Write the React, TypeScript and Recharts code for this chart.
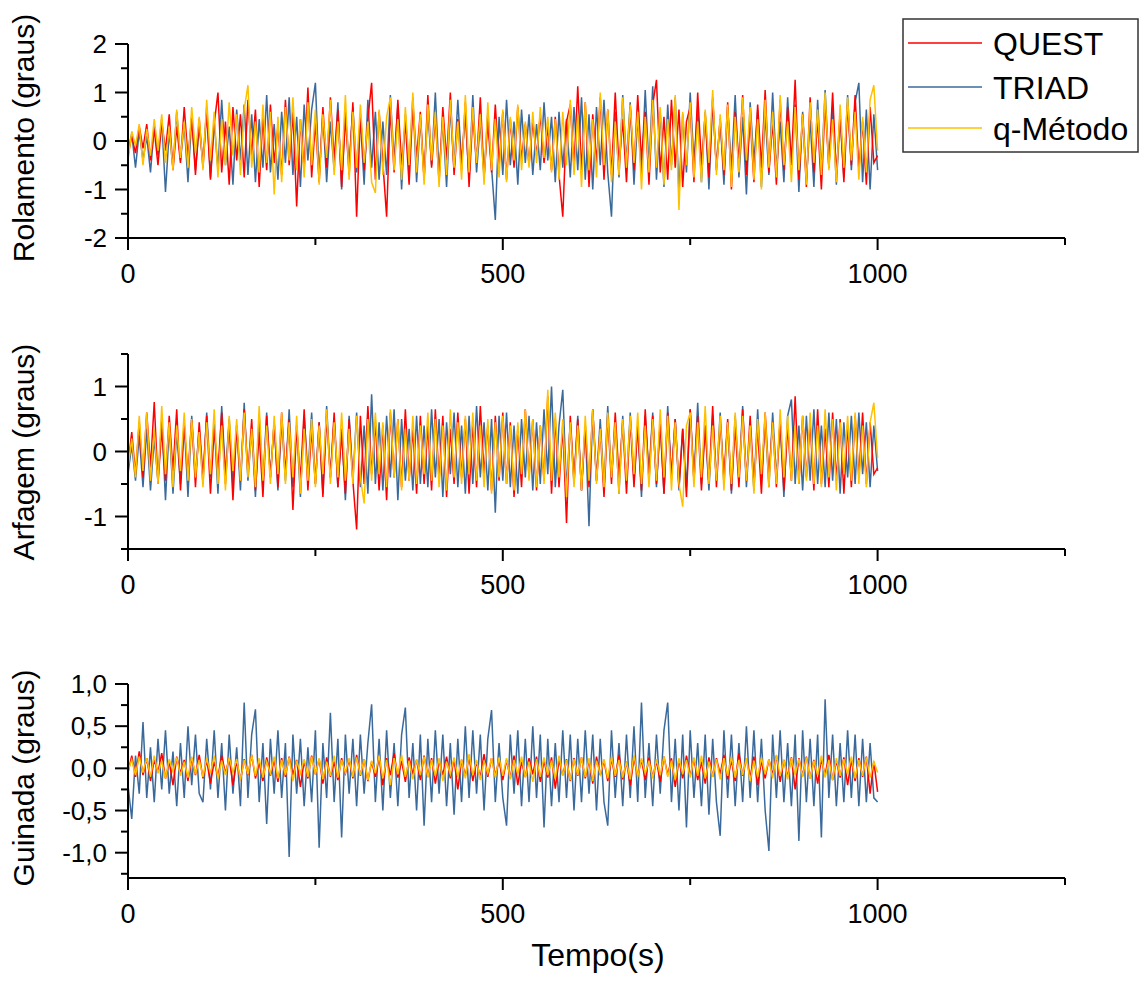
import React from "react";
import { LineChart, Line, XAxis, YAxis } from "recharts";

// values in hundredths of a degree, one sample every 5 s from 0 to 1000 s
const rollQuest = [
  -30, 10, -25, 30, -15, 35, -40, 25, -50, 40, -20, 55, -60, 30, -45, 70, -35, 50, -70, 45,
  -55, 60, -80, 35, 100, -65, 40, -90, 70, -40, 55, -75, 85, -30, 65, -95, 50, -60, 75, -45,
  30, -70, 85, -50, 60, -135, 45, -60, 110, -75, 40, -85, 70, -55, 90, -40, 65, -95, 50, -70,
  80, -156, 55, -60, 45, 120, -80, 60, -45, -156, 70, -65, 85, -50, 40, -90, 75, -35, 60, -80,
  95, -55, 50, -85, 70, -40, 100, -70, 45, -60, 80, -95, 55, -45, 90, -75, 40, -65, 75, -50,
  60, -80, 45, -55, 70, -40, 35, -50, 40, -30, 55, -45, 30, -60, 50, -70, -156, 40, 75, -55,
  113, -60, 80, -95, 55, -45, 90, -80, 65, -70, 100, -55, 45, -85, 70, -60, 95, -40, 60, -90,
  75, 126, -65, 50, -80, 85, -55, 65, -95, 40, 70, -85, 100, -50, 55, -75, 90, -60, 45, -70,
  80, -100, 60, -45, 95, -70, 50, -85, 75, -55, 105, -65, 40, -90, 85, -60, 70, -45, 126, -80,
  55, -95, 90, -65, 45, -100, 80, -55, 100, -70, 60, -85, 75, -50, 95, -60, 40, -90, 70, -45, -30,
];
const rollTriad = [
  -20, 15, -55, 20, -40, 10, -65, 30, -30, 45, -105, 20, -55, 60, -40, 35, -85, 50, -60, 30,
  -45, 70, -75, 40, -60, 85, -50, 30, -90, 65, -40, 75, -70, 55, -85, 45, -55, 95, -65, 35,
  -80, 60, -45, 90, -70, 50, -95, 75, -40, 65, 120, -75, 55, -85, 40, -60, 80, -100, 60, -50,
  70, -65, 45, -90, 85, -55, 60, -80, 40, -70, 95, -45, 75, -100, 55, -60, 90, -85, 45, -75,
  60, -50, 100, -70, 40, -95, 70, -60, 85, -45, 55, -80, 95, -65, 40, -75, 60, -55, -163, 50,
  -70, 85, -50, 40, -90, 65, -45, 55, -70, 35, -60, 80, -40, 50, -85, 60, -55, 45, -75, 70,
  -60, 90, -80, 55, -100, 70, -50, 85, -65, -156, 60, -75, 95, -45, 80, -90, 50, -70, 105, -55,
  113, -80, 60, -95, 75, -50, 90, -105, 55, -65, 100, -45, 70, -85, 60, -100, 85, -55, 45, -90,
  70, -60, 95, -75, 50, -110, 80, -45, 65, -95, 55, -70, 100, -60, 40, -85, 90, -50, 75, -105,
  60, -80, 45, -95, 85, -65, 105, -55, 70, -90, 50, -75, 95, -60, 80, 120, -85, 65, -100, 55, -60,
];
const rollQMethod = [
  -40, 20, -10, 35, -50, 25, -30, 45, -20, 55, -45, 30, -60, 65, -35, 40, -55, 70, -25, 50,
  -60, 85, -40, 60, -75, 45, -50, 80, -30, 55, -70, 65, 115, -55, 40, -65, 75, -45, 60, -110,
  50, -85, 70, -40, 90, -60, 45, -75, 80, -50, 65, -90, 55, -35, 85, -70, 40, -60, 95, -80,
  60, -55, 75, -45, 40, -85, -107, 65, -70, 50, 90, -60, 45, -80, 70, -50, 100, -65, 55, -90,
  75, -40, 60, -95, 50, -70, 85, -55, 40, -80, 95, -65, 70, -45, 55, -90, 80, -60, 45, -75,
  65, -85, 50, -40, 75, -60, 40, -55, 60, -45, 70, -35, 50, -65, 45, -80, 60, -50, 85, -70,
  55, -95, 80, -60, 45, -75, 100, -50, 65, -85, 40, -70, 90, -55, 75, -45, 60, -100, 50, -65,
  85, -55, 70, -90, 45, -60, 95, -142, 60, -50, 80, -75, 40, -85, 65, -45, 105, -70, 55, -60,
  75, -95, 50, -65, 90, -40, 70, -80, 45, -100, 85, -55, 60, -75, 95, -50, 40, -85, 70, -60,
  55, -90, 80, -45, 65, -70, 100, -60, 45, -85, 75, -55, 90, -40, 60, -80, 50, -65, 85, 115, -20,
];

const pitchQuest = [
  -20, 30, -35, 45, -40, 60, -25, 76, -50, 35, -45, 55, -30, 65, -60, 40, -35, 50, -55, 45,
  -40, 55, -65, 35, -30, 60, -50, 45, -75, 40, -45, 65, -35, 50, -60, 30, -70, 55, -40, 45,
  -55, 60, -35, 50, -90, 40, -45, 65, -60, 35, -50, 45, -70, 55, -40, 60, -55, 30, -65, 50,
  -45, -120, 55, -50, 70, -35, 45, -60, 40, -75, 60, -40, 50, -55, 65, -45, 35, -65, 55, -50,
  40, -60, 65, -45, 55, -70, 35, -50, 60, -40, 50, -65, 45, -55, 70, -35, 40, -60, 55, -45,
  60, -50, 45, -70, 35, -55, 65, -40, 50, -60, 40, -45, 85, -65, 50, -55, 40, -110, 55, -45,
  50, -60, 40, -55, 65, -45, 35, -70, 55, -50, 60, -40, 45, -65, 50, -55, 40, -60, 65, -45,
  55, -50, 45, -65, 60, -40, 50, -55, 35, -70, 65, -45, 55, -60, 40, -50, 70, -55, 45, -40,
  50, -60, 40, -55, 65, -45, 55, -50, 35, -65, 60, -40, 45, -55, 50, -60, 40, -45, 85, -50,
  55, -40, 45, -60, 65, -50, 35, -55, 60, -45, 50, -65, 40, -55, 55, -40, 60, -50, 45, -35, -25,
];
const pitchTriad = [
  -35, 10, -45, 25, -55, 35, -60, 20, -45, 50, -75, 40, -65, 30, -50, 45, -70, 55, -40, 35,
  -50, 60, -40, 45, -65, 70, -35, 50, -55, 40, -60, 75, -45, 35, -70, 55, -50, 60, -40, 45,
  -60, 50, -45, 65, -55, 40, -70, 55, -35, 60, -50, 45, -65, 70, -40, 50, -55, 35, -75, 55,
  -45, 60, -55, 40, -65, 88, -50, 45, -60, 55, -40, 65, -75, 50, -45, 35, -60, 55, -50, 40,
  -55, 65, -40, 50, -70, 45, -35, 60, -55, 40, -65, 55, -50, 70, -40, 45, -60, 50, -94, 55,
  -45, 60, -55, 40, -65, 50, -40, 55, -60, 45, -50, 65, -35, 100, -55, 40, 95, -60, 45, -50,
  55, -60, 40, -115, 65, -45, 50, -55, 70, -40, 45, -65, 55, -50, 60, -45, 40, -70, 55, -35,
  60, -55, 45, -65, 70, -40, 50, -60, 35, -55, 65, -45, 75, -50, 40, -60, 55, -45, 60, -50,
  45, -65, 55, -40, 70, -55, 40, -60, 65, -45, 50, -55, 60, -40, 45, -70, 55, 80, -50, 40,
  -60, 55, -45, 65, -50, 40, -55, 60, -45, 50, -65, 45, -40, 55, -50, 60, -35, 45, -55, 40, -30,
];
const pitchQMethod = [
  -25, 20, -40, 55, -30, 60, -45, 35, -50, 70, -35, 45, -55, 40, -30, 60, -45, 50, -40, 30,
  -55, 45, -35, 65, -50, 40, -60, 55, -30, 50, -45, 60, -40, 35, -55, 70, -45, 40, -50, 55,
  -35, 60, -50, 45, -40, 55, -65, 35, -45, 50, -55, 40, -35, 65, -50, 45, -40, 60, -45, 35,
  -50, 55, -40, -80, 50, -45, 60, -35, 45, -55, 65, -40, 50, -60, 35, -45, 55, -50, 40, -35,
  60, -45, 50, -55, 40, -60, 65, -40, 45, -50, 55, -35, 60, -45, 40, -55, 50, -65, 45, -40,
  55, -50, 40, -60, 45, -35, 65, -45, 50, -55, 40, -50, 95, -45, 60, -40, 50, -70, 45, -55,
  40, -60, 55, -45, 65, -50, 35, -55, 60, -40, 45, -65, 50, -45, 55, -35, 60, -50, 40, -55,
  50, -45, 65, -40, 55, -60, 45, -50, -85, 40, 60, -55, 45, -40, 70, -50, 40, -45, 55, -60,
  45, -50, 60, -40, 55, -45, 40, -65, 50, -35, 60, -55, 45, -50, 65, -40, 55, -45, 40, -50,
  55, -45, 60, -50, 40, -55, 65, -40, 50, -60, 45, -35, 55, -45, 60, -50, 40, -55, 45, 75, -10,
];

const yawQuest = [
  -5, 15, -10, 20, -8, 12, -15, 10, -5, 18, -12, 8, -20, 14, -6, 10, -15, 12, -8, 16,
  -12, 10, -18, 8, -10, 15, -6, 12, -20, 9, -14, 11, -8, 16, -12, 7, -15, 13, -9, 10,
  -16, 12, -10, 14, -8, 10, -22, 9, -12, 15, -7, 11, -18, 13, -10, 8, -14, 12, -6, 10,
  -12, 16, -9, 11, -15, 8, -10, 14, -20, 12, -8, 18, -11, 9, -16, 13, -7, 10, -14, 15,
  -10, 12, -18, 9, -8, 14, -12, 11, -25, 10, -9, 13, -15, 8, -11, 17, -10, 12, -8, 9,
  -14, 10, -12, 15, -20, 8, -10, 12, -7, 14, -16, 9, -11, 13, -24, 10, -8, 11, -15, 12,
  -9, 13, -12, 10, -18, 14, -8, 9, -15, 11, -10, 16, -13, 8, -20, 12, -9, 10, -14, 13,
  -11, 9, -16, 14, -8, 12, -22, 10, -12, 15, -9, 11, -14, 8, -18, 13, -10, 12, -7, 16,
  -13, 10, -15, 18, -9, 12, -11, 14, -20, 9, -12, 11, -8, 15, -16, 10, -10, 13, -25, 12,
  -9, 14, -12, 10, -18, 11, -8, 16, -14, 9, -11, 13, -20, 10, -15, 12, -10, 14, -30, 8, -28,
];
const yawTriad = [
  -20, -60, 15, -30, 55, -35, 25, -40, 35, -25, 45, -30, 20, -45, 30, -35, 50, -20, 40, -30,
  -40, 35, -25, 45, -35, 30, -50, 40, -30, 25, -45, 78, -35, 40, 70, -40, 30, -66, 35, -30,
  45, -35, 30, -105, 40, -30, 35, -45, 25, -40, 45, -94, 30, -35, 66, -40, 35, -82, 40, -30,
  35, -45, 40, -30, 30, 76, -40, 35, -50, 45, -35, 30, -45, 40, 72, -35, 30, -50, 40, -68,
  35, -40, 45, -30, 40, -45, 30, -55, 35, -40, 50, -35, 45, -30, 40, -50, 35, 69, -40, 30,
  -35, -68, 40, -30, 45, -45, 35, -40, 50, -35, 40, -70, 35, -45, 30, -40, 45, -35, 40, -50,
  35, -40, 45, -30, 40, -50, 35, -40, -68, 45, -35, 30, -45, 40, -35, 50, -40, 78, -35, 30,
  -45, 40, -30, 45, 78, -40, 35, -50, 40, -70, 45, -35, 30, -45, 40, -55, 35, -40, -80, 45,
  -35, 40, -45, 30, -40, 50, -35, 45, -40, 35, -50, -98, 40, -35, 45, -40, 30, -45, 40, -86,
  45, -40, 35, -45, 40, -82, 82, -35, 40, -45, 30, -40, 45, -35, 40, -45, 35, -40, 30, -35, -40,
];
const yawQMethod = [
  -3, 10, -8, 14, -5, 12, -10, 15, -6, 9, -12, 11, -4, 13, -9, 8, -11, 14, -7, 10,
  -10, 12, -6, 15, -12, 9, -8, 13, -5, 11, -14, 10, -7, 16, -9, 12, -11, 8, -6, 14,
  -12, 10, -8, 13, -15, 9, -6, 11, -10, 14, -7, 12, -13, 8, -9, 15, -11, 10, -5, 12,
  -10, 13, -8, 11, -14, 9, -6, 15, -12, 10, -20, 12, -7, 16, -10, 9, -13, 11, -8, 14,
  -11, 10, -9, 12, -15, 8, -7, 13, -10, 11, -12, 17, -8, 10, -14, 9, -6, 12, -11, 13,
  -9, 12, -13, 10, -7, 14, -11, 8, -16, 11, -10, 13, -8, 9, -12, 15, -9, 10, -14, 11,
  -8, 13, -10, 12, -15, 9, -7, 11, -12, 14, -9, 10, -11, 8, -13, 16, -10, 12, -6, 9,
  -12, 11, -8, 14, -10, 9, -14, 12, -7, 10, -11, 13, -9, 15, -12, 8, -10, 11, -13, 12,
  -9, 14, -11, 10, -8, 12, -15, 9, -10, 13, -7, 11, -12, 16, -9, 10, -13, 12, -8, 11,
  -10, 13, -12, 9, -8, 15, -11, 10, -14, 12, -9, 11, -7, 14, -12, 10, -9, 13, -11, 8, -5,
];

const xTicks = [0, 250, 500, 750, 1000, 1250];
const xLabelled = [0, 500, 1000];
const seriesNames = ["QUEST", "TRIAD", "q-Método"];
const seriesColors = ["#ff0000", "#3a6a9c", "#ffc000"];

const FONT = "'Liberation Sans', Arial, sans-serif";
const TIME_END = 1000;

const toSeries = (values: number[]) => {
  const step = TIME_END / (values.length - 1);
  return values.map((v, i) => ({ t: i * step, v: v / 100 }));
};

const panels = [
  {
    title: "Rolamento (graus)",
    top: 24,
    plotH: 194,
    domain: [-2, 2],
    ticks: [-2, -1.5, -1, -0.5, 0, 0.5, 1, 1.5, 2],
    isMajor: (v: number) => Number.isInteger(v),
    fmt: (v: number) => String(v),
    titleY: 138,
    data: [rollQuest, rollTriad, rollQMethod],
  },
  {
    title: "Arfagem (graus)",
    top: 334,
    plotH: 195,
    domain: [-1.5, 1.5],
    ticks: [-1.5, -1, -0.5, 0, 0.5, 1, 1.5],
    isMajor: (v: number) => Number.isInteger(v),
    fmt: (v: number) => String(v),
    titleY: 452,
    data: [pitchQuest, pitchTriad, pitchQMethod],
  },
  {
    title: "Guinada (graus)",
    top: 664,
    plotH: 194,
    domain: [-1.3, 1],
    ticks: [-1.25, -1, -0.75, -0.5, -0.25, 0, 0.25, 0.5, 0.75, 1],
    isMajor: (v: number) => Math.abs(v * 2 - Math.round(v * 2)) < 1e-9,
    fmt: (v: number) => v.toFixed(1).replace(".", ","),
    titleY: 778,
    data: [yawQuest, yawTriad, yawQMethod],
  },
];

const YTick = (props: any) => {
  const { x, y, payload, isMajor, fmt } = props;
  const major = isMajor(payload.value);
  return (
    <g>
      <line x1={x - (major ? 13 : 7)} x2={x} y1={y} y2={y} stroke="#000" strokeWidth={2} />
      {major && (
        <text x={x - 21} y={y + 9} textAnchor="end" fontSize={26} fill="#000" fontFamily={FONT}>
          {fmt(payload.value)}
        </text>
      )}
    </g>
  );
};

const XTick = (props: any) => {
  const { x, y, payload } = props;
  const major = xLabelled.includes(payload.value);
  return (
    <g>
      <line x1={x} x2={x} y1={y} y2={y + (major ? 12 : 7)} stroke="#000" strokeWidth={2} />
      {major && (
        <text x={x} y={y + 45} textAnchor="middle" fontSize={27} fill="#000" fontFamily={FONT}>
          {payload.value}
        </text>
      )}
    </g>
  );
};

// draw TRIAD first so QUEST and q-Método sit on top of it
const drawOrder = [1, 0, 2];

function Panel({ p }: { p: (typeof panels)[number] }) {
  return (
    <div style={{ position: "absolute", left: 0, top: p.top }}>
      <LineChart width={1146} height={p.plotH + 80} margin={{ top: 20, right: 81, bottom: 10, left: 28 }}>
        <XAxis
          type="number"
          dataKey="t"
          domain={[0, 1250]}
          ticks={xTicks}
          allowDataOverflow
          height={50}
          tickSize={0}
          tickMargin={0}
          tickLine={false}
          axisLine={{ stroke: "#000", strokeWidth: 2 }}
          tick={<XTick />}
          interval={0}
        />
        <YAxis
          type="number"
          domain={p.domain}
          ticks={p.ticks}
          allowDataOverflow
          width={100}
          tickSize={0}
          tickMargin={0}
          tickLine={false}
          axisLine={{ stroke: "#000", strokeWidth: 2 }}
          tick={<YTick isMajor={p.isMajor} fmt={p.fmt} />}
          interval={0}
        />
        {drawOrder.map((i) => (
          <Line
            key={seriesNames[i]}
            data={toSeries(p.data[i])}
            dataKey="v"
            type="linear"
            stroke={seriesColors[i]}
            strokeWidth={1.5}
            dot={false}
            isAnimationActive={false}
          />
        ))}
      </LineChart>
    </div>
  );
}

export default function App() {
  const legendY = [43, 87, 128];
  return (
    <div style={{ position: "absolute", left: 0, top: 0, width: 1146, height: 989, background: "#fff" }}>
      {panels.map((p) => (
        <Panel key={p.title} p={p} />
      ))}
      <svg width={1146} height={989} style={{ position: "absolute", left: 0, top: 0, pointerEvents: "none" }}>
        {panels.map((p) => (
          <text
            key={p.title}
            x={34}
            y={p.titleY}
            transform={`rotate(-90 34 ${p.titleY})`}
            textAnchor="middle"
            fontSize={30}
            fill="#000"
            fontFamily={FONT}
          >
            {p.title}
          </text>
        ))}
        <text x={598} y={966} textAnchor="middle" fontSize={32} fill="#000" fontFamily={FONT}>
          Tempo(s)
        </text>
        <rect x={903} y={19} width={235} height={133} fill="#fff" stroke="#333" strokeWidth={1.5} />
        {seriesNames.map((name, i) => (
          <g key={name}>
            <line x1={908} x2={982} y1={legendY[i]} y2={legendY[i]} stroke={seriesColors[i]} strokeWidth={1.5} />
            <text x={993} y={legendY[i] + 12} fontSize={32} fill="#000" fontFamily={FONT}>
              {name}
            </text>
          </g>
        ))}
      </svg>
    </div>
  );
}
